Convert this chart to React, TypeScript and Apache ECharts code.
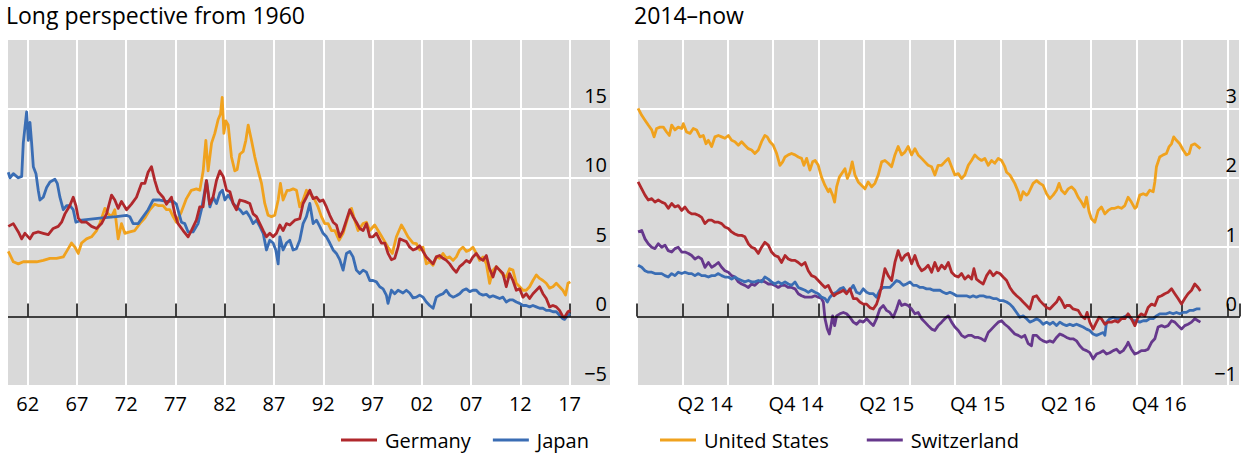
import React, { useEffect, useRef } from "react";
import * as echarts from "echarts";

const FONT = "'Open Sans', 'Noto Sans', sans-serif";

// ---- Axis ticks & labels ----
const longTicks = [1962, 1967, 1972, 1977, 1982, 1987, 1992, 1997, 2002, 2007, 2012, 2017];
const longTickLabels = ["62", "67", "72", "77", "82", "87", "92", "97", "02", "07", "12", "17"];
const shortLabelPositions = [2014.375, 2014.875, 2015.375, 2015.875, 2016.375, 2016.875];
const shortTickLabels = ["Q2 14", "Q4 14", "Q2 15", "Q4 15", "Q2 16", "Q4 16"];

// ---- Long perspective from 1960 (year, % yield) ----
const germanyLong: [number, number][] = [
  [1960.03, 6.5], [1960.54, 6.7], [1961.05, 6.1], [1961.39, 5.6], [1961.72, 6.0], [1962.23, 5.6], [1962.57, 6.0],
  [1963.07, 6.1], [1963.58, 6.0], [1964.09, 5.9], [1964.59, 6.35], [1965.1, 6.5], [1965.44, 6.8], [1965.78, 7.4],
  [1966.28, 8.0], [1966.62, 8.6], [1966.89, 8.0], [1967.13, 7.1], [1967.47, 6.8], [1967.97, 6.8], [1968.48, 6.5],
  [1968.99, 6.35], [1969.49, 6.7], [1970.0, 7.4], [1970.51, 8.75], [1970.84, 8.4], [1971.18, 7.8], [1971.52, 8.3],
  [1972.03, 7.7], [1972.53, 8.1], [1973.04, 8.6], [1973.55, 9.6], [1973.89, 9.6], [1974.22, 10.4], [1974.56, 10.8],
  [1974.9, 9.8], [1975.24, 9.0], [1975.74, 8.6], [1976.08, 8.1], [1976.59, 8.6], [1976.93, 7.4], [1977.26, 6.7],
  [1977.77, 6.2], [1978.28, 5.75], [1978.61, 6.2], [1979.12, 6.95], [1979.46, 7.9], [1979.8, 7.9], [1980.14, 9.8],
  [1980.47, 8.1], [1980.81, 8.6], [1981.16, 9.8], [1981.5, 10.5], [1981.84, 10.1], [1982.18, 9.1], [1982.52, 9.0],
  [1982.85, 8.15], [1983.19, 7.7], [1983.53, 8.4], [1984.04, 8.3], [1984.54, 8.15], [1984.88, 7.4], [1985.22, 7.2],
  [1985.56, 6.7], [1985.9, 6.2], [1986.23, 5.75], [1986.57, 6.0], [1986.91, 5.75], [1987.25, 6.0], [1987.59, 6.6],
  [1987.92, 6.2], [1988.26, 6.7], [1988.6, 6.6], [1989.11, 6.95], [1989.61, 7.05], [1989.95, 8.15], [1990.29, 8.6],
  [1990.63, 9.1], [1990.97, 8.5], [1991.31, 8.6], [1991.64, 8.3], [1991.98, 8.4], [1992.32, 7.9], [1992.66, 7.3],
  [1993.0, 6.8], [1993.33, 6.6], [1993.67, 5.75], [1994.01, 6.2], [1994.35, 6.95], [1994.69, 7.7], [1995.02, 7.2],
  [1995.36, 6.8], [1995.7, 6.35], [1996.04, 6.2], [1996.38, 6.7], [1996.72, 5.75], [1997.05, 5.75], [1997.39, 6.0],
  [1997.9, 5.3], [1998.24, 5.3], [1998.57, 4.55], [1998.91, 4.1], [1999.25, 4.2], [1999.59, 5.0], [1999.76, 5.6],
  [2000.09, 5.5], [2000.43, 5.4], [2000.77, 5.0], [2001.11, 4.8], [2001.45, 4.9], [2001.78, 5.1], [2002.12, 4.7],
  [2002.46, 4.3], [2002.8, 4.05], [2003.14, 3.8], [2003.47, 4.3], [2003.81, 4.4], [2004.15, 4.2], [2004.49, 4.05],
  [2004.83, 3.8], [2005.17, 3.45], [2005.5, 3.2], [2005.84, 3.6], [2006.18, 3.8], [2006.52, 4.05], [2006.86, 3.9],
  [2007.19, 4.3], [2007.53, 4.55], [2007.87, 4.2], [2008.21, 4.05], [2008.55, 4.4], [2008.88, 3.45], [2009.22, 2.85],
  [2009.56, 3.6], [2009.9, 3.35], [2010.24, 3.1], [2010.57, 2.15], [2010.91, 3.1], [2011.25, 2.6], [2011.59, 1.9],
  [2011.93, 2.0], [2012.27, 1.4], [2012.6, 1.65], [2012.94, 1.3], [2013.28, 1.65], [2013.62, 1.9], [2013.96, 2.15],
  [2014.29, 1.65], [2014.63, 1.3], [2014.97, 0.7], [2015.31, 0.8], [2015.65, 0.7], [2015.98, 0.45], [2016.32, 0.0],
  [2016.49, -0.05], [2016.83, 0.35], [2017.07, 0.45],
];

const japanLong: [number, number][] = [
  [1960.03, 10.4], [1960.2, 10.0], [1960.54, 10.3], [1961.05, 10.0], [1961.39, 10.1], [1961.55, 12.5], [1961.89, 14.75],
  [1962.06, 12.7], [1962.23, 14.0], [1962.4, 12.5], [1962.57, 10.8], [1962.84, 10.3], [1963.07, 9.1], [1963.24, 8.4],
  [1963.58, 8.6], [1963.92, 9.3], [1964.26, 9.7], [1964.76, 9.9], [1965.0, 9.6], [1965.27, 8.6], [1965.61, 7.7],
  [1965.95, 8.0], [1966.28, 8.0], [1966.62, 7.7], [1966.89, 6.8], [1967.5, 6.95], [1969.32, 7.1], [1971.0, 7.2],
  [1972.03, 7.3], [1972.36, 7.2], [1972.7, 6.7], [1973.21, 6.7], [1973.72, 7.2], [1974.22, 7.7], [1974.73, 8.4],
  [1975.41, 8.4], [1976.08, 8.3], [1976.76, 8.3], [1977.09, 8.1], [1977.6, 6.8], [1977.94, 6.7], [1978.28, 6.1],
  [1978.78, 6.1], [1979.29, 6.7], [1979.63, 7.7], [1979.81, 8.4], [1980.15, 9.8], [1980.49, 7.9], [1980.82, 8.6],
  [1981.16, 8.15], [1981.5, 8.9], [1981.77, 9.1], [1982.01, 8.4], [1982.35, 8.75], [1982.68, 8.4], [1982.85, 8.15],
  [1983.19, 7.9], [1983.53, 7.7], [1983.87, 7.4], [1984.21, 7.55], [1984.54, 7.2], [1984.88, 6.7], [1985.22, 6.95],
  [1985.56, 6.5], [1985.9, 6.0], [1986.23, 4.8], [1986.57, 5.5], [1986.91, 5.3], [1987.18, 4.8], [1987.42, 3.8],
  [1987.59, 5.75], [1987.92, 4.8], [1988.26, 5.3], [1988.6, 5.5], [1988.94, 4.8], [1989.28, 4.9], [1989.61, 5.5],
  [1989.95, 6.7], [1990.29, 7.2], [1990.63, 8.15], [1990.97, 6.7], [1991.31, 6.95], [1991.64, 6.5], [1991.98, 6.0],
  [1992.32, 5.75], [1992.66, 5.3], [1993.0, 4.8], [1993.33, 4.55], [1993.67, 4.1], [1994.01, 3.35], [1994.35, 4.55],
  [1994.69, 4.7], [1995.02, 4.3], [1995.36, 3.35], [1995.7, 3.1], [1996.04, 3.35], [1996.38, 3.2], [1996.72, 2.6],
  [1997.05, 2.6], [1997.39, 2.5], [1997.73, 2.15], [1998.07, 2.0], [1998.4, 1.55], [1998.57, 0.95], [1998.91, 1.9],
  [1999.25, 1.65], [1999.59, 1.9], [2000.09, 1.7], [2000.43, 1.9], [2000.77, 1.7], [2001.11, 1.35], [2001.45, 1.4],
  [2001.78, 1.55], [2002.12, 1.4], [2002.46, 1.05], [2002.8, 0.8], [2003.14, 0.6], [2003.47, 1.4], [2003.81, 1.55],
  [2004.15, 1.65], [2004.49, 1.9], [2004.83, 1.55], [2005.17, 1.4], [2005.5, 1.5], [2005.84, 1.65], [2006.18, 1.9],
  [2006.52, 2.0], [2006.86, 1.8], [2007.19, 1.9], [2007.53, 1.9], [2007.87, 1.65], [2008.21, 1.55], [2008.55, 1.6],
  [2008.88, 1.4], [2009.22, 1.5], [2009.56, 1.4], [2009.9, 1.3], [2010.24, 1.4], [2010.57, 1.05], [2010.91, 1.2],
  [2011.25, 1.2], [2011.59, 1.05], [2011.93, 0.95], [2012.27, 0.8], [2012.6, 0.8], [2012.94, 0.7], [2013.28, 0.8],
  [2013.62, 0.7], [2013.96, 0.6], [2014.29, 0.6], [2014.63, 0.45], [2014.97, 0.45], [2015.31, 0.35], [2015.65, 0.35],
  [2015.98, 0.1], [2016.32, -0.15], [2016.49, -0.2], [2016.83, 0.1], [2017.07, 0.2],
];

const usLong: [number, number][] = [
  [1960.03, 4.7], [1960.54, 3.95], [1961.05, 3.8], [1961.55, 3.95], [1962.23, 3.95], [1962.91, 3.95], [1963.58, 4.05],
  [1964.26, 4.2], [1964.93, 4.2], [1965.61, 4.3], [1965.95, 4.7], [1966.45, 5.3], [1966.79, 5.0], [1967.13, 4.55],
  [1967.47, 5.3], [1967.97, 5.6], [1968.48, 5.75], [1968.99, 6.2], [1969.32, 6.7], [1969.83, 7.8], [1970.17, 7.4],
  [1970.51, 7.2], [1970.84, 7.7], [1971.18, 5.6], [1971.52, 6.7], [1971.86, 6.0], [1972.36, 6.1], [1972.87, 6.2],
  [1973.38, 6.7], [1973.89, 7.1], [1974.39, 7.7], [1974.9, 8.1], [1975.24, 8.0], [1975.74, 8.0], [1976.08, 7.7],
  [1976.42, 7.7], [1976.76, 7.2], [1977.09, 6.8], [1977.6, 7.55], [1978.11, 8.5], [1978.61, 9.1], [1979.12, 9.2],
  [1979.47, 9.1], [1979.81, 10.5], [1980.08, 12.7], [1980.31, 10.5], [1980.66, 12.5], [1980.99, 13.2], [1981.33, 14.2],
  [1981.57, 14.6], [1981.74, 15.8], [1981.91, 13.2], [1982.11, 14.1], [1982.35, 13.8], [1982.68, 11.5], [1983.02, 10.5],
  [1983.26, 10.6], [1983.53, 11.7], [1983.87, 11.9], [1984.14, 12.7], [1984.38, 13.8], [1984.71, 12.7], [1985.05, 11.5],
  [1985.39, 10.5], [1985.73, 9.6], [1986.06, 8.15], [1986.4, 7.3], [1986.74, 7.2], [1987.08, 7.3], [1987.42, 8.4],
  [1987.65, 9.6], [1987.92, 8.4], [1988.33, 9.1], [1988.6, 9.1], [1988.94, 9.2], [1989.28, 9.1], [1989.61, 7.9],
  [1989.95, 8.4], [1990.29, 9.1], [1990.63, 8.9], [1991.14, 8.4], [1991.47, 7.9], [1991.81, 7.2], [1992.15, 6.7],
  [1992.49, 6.7], [1992.83, 6.2], [1993.17, 6.2], [1993.6, 5.5], [1994.01, 6.0], [1994.52, 7.2], [1994.86, 7.8],
  [1995.19, 6.95], [1995.53, 6.2], [1996.04, 6.7], [1996.38, 6.8], [1996.72, 6.2], [1997.22, 6.6], [1997.73, 6.0],
  [1998.24, 5.4], [1998.57, 5.0], [1999.01, 4.55], [1999.42, 5.75], [1999.93, 6.6], [2000.26, 6.2], [2000.6, 5.75],
  [2001.11, 5.3], [2001.45, 5.25], [2001.78, 4.8], [2002.12, 5.0], [2002.46, 3.8], [2002.8, 3.95], [2003.14, 3.7],
  [2003.47, 4.3], [2003.81, 4.2], [2004.15, 4.55], [2004.49, 4.2], [2004.83, 4.3], [2005.17, 4.05], [2005.5, 4.3],
  [2005.84, 4.8], [2006.18, 5.0], [2006.52, 4.7], [2006.86, 4.8], [2007.19, 5.0], [2007.53, 4.55], [2007.87, 4.05],
  [2008.21, 4.3], [2008.55, 3.8], [2008.88, 2.4], [2009.22, 3.35], [2009.56, 3.6], [2009.9, 3.35], [2010.24, 3.0],
  [2010.57, 2.85], [2010.91, 3.45], [2011.25, 3.35], [2011.59, 2.4], [2011.93, 2.15], [2012.27, 1.9], [2012.6, 1.9],
  [2012.94, 2.15], [2013.28, 2.6], [2013.62, 3.0], [2013.96, 2.75], [2014.29, 2.6], [2014.63, 2.4], [2014.97, 2.05],
  [2015.31, 2.15], [2015.65, 2.4], [2015.98, 2.15], [2016.32, 1.9], [2016.59, 1.55], [2016.83, 2.4], [2017.07, 2.5],
];

// ---- 2014–now (year, % yield) ----
const usShort: [number, number][] = [
  [2014.006, 3.0], [2014.026, 2.9], [2014.044, 2.83], [2014.062, 2.76], [2014.081, 2.69], [2014.094, 2.59], [2014.108, 2.71],
  [2014.127, 2.73], [2014.145, 2.73], [2014.163, 2.66], [2014.178, 2.61], [2014.191, 2.76], [2014.209, 2.69], [2014.227, 2.73],
  [2014.246, 2.71], [2014.255, 2.78], [2014.273, 2.66], [2014.292, 2.64], [2014.31, 2.71], [2014.328, 2.69], [2014.347, 2.59],
  [2014.365, 2.61], [2014.38, 2.49], [2014.393, 2.54], [2014.411, 2.45], [2014.429, 2.59], [2014.448, 2.61], [2014.466, 2.59],
  [2014.484, 2.57], [2014.503, 2.61], [2014.521, 2.54], [2014.539, 2.52], [2014.558, 2.47], [2014.576, 2.52], [2014.594, 2.47],
  [2014.613, 2.42], [2014.631, 2.4], [2014.649, 2.35], [2014.668, 2.4], [2014.686, 2.52], [2014.704, 2.61], [2014.717, 2.59],
  [2014.732, 2.52], [2014.75, 2.47], [2014.769, 2.35], [2014.787, 2.18], [2014.802, 2.23], [2014.815, 2.3], [2014.833, 2.33],
  [2014.851, 2.35], [2014.87, 2.33], [2014.888, 2.3], [2014.906, 2.28], [2014.919, 2.18], [2014.934, 2.28], [2014.952, 2.11],
  [2014.967, 2.23], [2014.981, 2.25], [2014.998, 2.18], [2015.016, 2.01], [2015.035, 1.89], [2015.053, 1.8], [2015.062, 1.84],
  [2015.077, 1.75], [2015.088, 1.65], [2015.099, 1.87], [2015.114, 2.01], [2015.132, 2.08], [2015.145, 2.13], [2015.158, 1.99],
  [2015.172, 2.08], [2015.185, 2.23], [2015.2, 2.04], [2015.218, 1.94], [2015.237, 1.89], [2015.255, 1.84], [2015.273, 1.94],
  [2015.292, 1.87], [2015.31, 1.92], [2015.328, 2.04], [2015.347, 2.23], [2015.365, 2.25], [2015.383, 2.21], [2015.402, 2.16],
  [2015.42, 2.33], [2015.438, 2.45], [2015.457, 2.33], [2015.475, 2.37], [2015.493, 2.45], [2015.512, 2.33], [2015.53, 2.42],
  [2015.548, 2.33], [2015.567, 2.28], [2015.585, 2.23], [2015.603, 2.18], [2015.622, 2.16], [2015.64, 2.04], [2015.658, 2.18],
  [2015.677, 2.18], [2015.695, 2.23], [2015.714, 2.28], [2015.732, 2.16], [2015.75, 2.04], [2015.769, 2.06], [2015.787, 1.99],
  [2015.805, 2.04], [2015.824, 2.18], [2015.842, 2.25], [2015.86, 2.33], [2015.879, 2.28], [2015.897, 2.25], [2015.915, 2.28],
  [2015.934, 2.18], [2015.952, 2.25], [2015.97, 2.21], [2015.989, 2.28], [2016.007, 2.25], [2016.025, 2.16], [2016.035, 2.08],
  [2016.053, 2.04], [2016.08, 1.92], [2016.099, 1.8], [2016.112, 1.68], [2016.126, 1.8], [2016.145, 1.75], [2016.154, 1.77],
  [2016.181, 1.92], [2016.2, 1.96], [2016.218, 1.92], [2016.236, 1.89], [2016.255, 1.77], [2016.273, 1.7], [2016.291, 1.75],
  [2016.31, 1.82], [2016.324, 1.92], [2016.337, 1.82], [2016.356, 1.77], [2016.374, 1.84], [2016.392, 1.87], [2016.411, 1.82],
  [2016.429, 1.72], [2016.447, 1.65], [2016.462, 1.58], [2016.475, 1.72], [2016.489, 1.51], [2016.502, 1.41], [2016.521, 1.36],
  [2016.539, 1.53], [2016.557, 1.58], [2016.576, 1.48], [2016.594, 1.53], [2016.613, 1.56], [2016.631, 1.56], [2016.649, 1.58],
  [2016.667, 1.56], [2016.686, 1.6], [2016.704, 1.72], [2016.722, 1.65], [2016.741, 1.56], [2016.75, 1.58], [2016.768, 1.75],
  [2016.787, 1.77], [2016.805, 1.75], [2016.823, 1.82], [2016.842, 1.8], [2016.851, 1.94], [2016.86, 2.16], [2016.878, 2.3],
  [2016.897, 2.33], [2016.915, 2.35], [2016.93, 2.45], [2016.943, 2.49], [2016.955, 2.59], [2016.97, 2.54], [2016.988, 2.49],
  [2017.007, 2.4], [2017.025, 2.33], [2017.04, 2.35], [2017.053, 2.47], [2017.071, 2.49], [2017.089, 2.45], [2017.102, 2.42],
];

const germanyShort: [number, number][] = [
  [2014.006, 1.94], [2014.026, 1.84], [2014.044, 1.75], [2014.062, 1.68], [2014.081, 1.7], [2014.099, 1.65], [2014.117, 1.68],
  [2014.136, 1.65], [2014.154, 1.63], [2014.172, 1.56], [2014.191, 1.63], [2014.209, 1.58], [2014.227, 1.6], [2014.246, 1.53],
  [2014.264, 1.58], [2014.283, 1.51], [2014.301, 1.48], [2014.319, 1.48], [2014.338, 1.46], [2014.356, 1.43], [2014.374, 1.34],
  [2014.393, 1.39], [2014.411, 1.39], [2014.429, 1.36], [2014.448, 1.36], [2014.466, 1.34], [2014.484, 1.29], [2014.503, 1.27],
  [2014.521, 1.22], [2014.539, 1.19], [2014.558, 1.17], [2014.576, 1.17], [2014.594, 1.15], [2014.613, 1.05], [2014.631, 1.0],
  [2014.649, 0.98], [2014.668, 0.91], [2014.686, 1.0], [2014.704, 1.07], [2014.723, 1.03], [2014.741, 0.93], [2014.759, 0.88],
  [2014.778, 0.86], [2014.796, 0.78], [2014.815, 0.88], [2014.833, 0.83], [2014.851, 0.81], [2014.87, 0.81], [2014.888, 0.78],
  [2014.906, 0.74], [2014.925, 0.78], [2014.943, 0.66], [2014.961, 0.59], [2014.98, 0.57], [2014.998, 0.52], [2015.016, 0.47],
  [2015.035, 0.42], [2015.053, 0.45], [2015.071, 0.35], [2015.084, 0.3], [2015.099, 0.33], [2015.117, 0.35], [2015.136, 0.38],
  [2015.154, 0.33], [2015.172, 0.4], [2015.191, 0.26], [2015.209, 0.26], [2015.227, 0.21], [2015.246, 0.18], [2015.264, 0.18],
  [2015.282, 0.13], [2015.301, 0.11], [2015.319, 0.18], [2015.334, 0.3], [2015.347, 0.45], [2015.365, 0.69], [2015.383, 0.59],
  [2015.402, 0.52], [2015.42, 0.78], [2015.438, 0.95], [2015.457, 0.81], [2015.475, 0.88], [2015.493, 0.91], [2015.512, 0.76],
  [2015.53, 0.88], [2015.548, 0.74], [2015.567, 0.66], [2015.585, 0.69], [2015.603, 0.74], [2015.622, 0.64], [2015.64, 0.78],
  [2015.658, 0.66], [2015.677, 0.74], [2015.695, 0.69], [2015.714, 0.78], [2015.732, 0.64], [2015.75, 0.59], [2015.769, 0.57],
  [2015.787, 0.62], [2015.805, 0.54], [2015.824, 0.59], [2015.842, 0.54], [2015.855, 0.69], [2015.869, 0.54], [2015.888, 0.5],
  [2015.906, 0.47], [2015.925, 0.59], [2015.943, 0.66], [2015.961, 0.59], [2015.98, 0.64], [2015.998, 0.62], [2016.016, 0.57],
  [2016.035, 0.52], [2016.053, 0.42], [2016.071, 0.35], [2016.09, 0.3], [2016.108, 0.26], [2016.126, 0.21], [2016.145, 0.16],
  [2016.163, 0.11], [2016.181, 0.28], [2016.2, 0.3], [2016.218, 0.23], [2016.236, 0.18], [2016.255, 0.13], [2016.273, 0.11],
  [2016.291, 0.16], [2016.31, 0.21], [2016.324, 0.28], [2016.337, 0.23], [2016.356, 0.13], [2016.365, 0.16], [2016.383, 0.16],
  [2016.401, 0.11], [2016.429, 0.09], [2016.447, 0.01], [2016.466, -0.03], [2016.478, 0.06], [2016.493, -0.08], [2016.511, -0.18],
  [2016.53, -0.08], [2016.544, -0.01], [2016.557, -0.03], [2016.576, -0.11], [2016.594, -0.08], [2016.613, -0.08], [2016.631, -0.06],
  [2016.649, -0.08], [2016.667, -0.03], [2016.686, -0.03], [2016.704, 0.04], [2016.722, -0.03], [2016.741, -0.13], [2016.759, -0.01],
  [2016.777, 0.04], [2016.796, 0.01], [2016.814, 0.13], [2016.833, 0.18], [2016.851, 0.16], [2016.869, 0.28], [2016.888, 0.3],
  [2016.906, 0.33], [2016.924, 0.35], [2016.943, 0.4], [2016.961, 0.33], [2016.979, 0.26], [2016.998, 0.18], [2017.016, 0.26],
  [2017.034, 0.33], [2017.053, 0.38], [2017.071, 0.47], [2017.089, 0.42], [2017.102, 0.37],
];

const japanShort: [number, number][] = [
  [2014.006, 0.74], [2014.026, 0.71], [2014.044, 0.66], [2014.062, 0.64], [2014.081, 0.64], [2014.099, 0.62], [2014.117, 0.62],
  [2014.136, 0.62], [2014.154, 0.59], [2014.172, 0.57], [2014.191, 0.62], [2014.209, 0.59], [2014.227, 0.64], [2014.246, 0.62],
  [2014.264, 0.64], [2014.283, 0.62], [2014.301, 0.62], [2014.319, 0.59], [2014.338, 0.62], [2014.356, 0.59], [2014.374, 0.59],
  [2014.393, 0.57], [2014.411, 0.59], [2014.429, 0.59], [2014.448, 0.62], [2014.466, 0.59], [2014.484, 0.57], [2014.503, 0.57],
  [2014.521, 0.54], [2014.539, 0.57], [2014.558, 0.54], [2014.576, 0.52], [2014.594, 0.5], [2014.613, 0.52], [2014.631, 0.5],
  [2014.649, 0.5], [2014.668, 0.52], [2014.686, 0.5], [2014.704, 0.57], [2014.723, 0.54], [2014.741, 0.5], [2014.759, 0.47],
  [2014.778, 0.5], [2014.796, 0.47], [2014.815, 0.5], [2014.833, 0.47], [2014.851, 0.45], [2014.87, 0.5], [2014.888, 0.42],
  [2014.906, 0.4], [2014.925, 0.38], [2014.943, 0.35], [2014.961, 0.38], [2014.98, 0.35], [2014.998, 0.33], [2015.016, 0.28],
  [2015.035, 0.26], [2015.048, 0.21], [2015.062, 0.28], [2015.08, 0.33], [2015.099, 0.35], [2015.117, 0.4], [2015.136, 0.42],
  [2015.154, 0.35], [2015.172, 0.38], [2015.191, 0.45], [2015.209, 0.35], [2015.227, 0.33], [2015.246, 0.4], [2015.264, 0.35],
  [2015.282, 0.33], [2015.301, 0.33], [2015.319, 0.28], [2015.337, 0.38], [2015.356, 0.42], [2015.374, 0.42], [2015.392, 0.42],
  [2015.411, 0.47], [2015.429, 0.52], [2015.447, 0.5], [2015.466, 0.45], [2015.484, 0.47], [2015.503, 0.5], [2015.521, 0.45],
  [2015.539, 0.45], [2015.558, 0.42], [2015.576, 0.42], [2015.594, 0.4], [2015.613, 0.4], [2015.631, 0.38], [2015.649, 0.38],
  [2015.668, 0.38], [2015.686, 0.35], [2015.704, 0.33], [2015.723, 0.35], [2015.741, 0.33], [2015.759, 0.3], [2015.778, 0.3],
  [2015.796, 0.3], [2015.814, 0.3], [2015.833, 0.28], [2015.851, 0.3], [2015.869, 0.28], [2015.888, 0.3], [2015.906, 0.3],
  [2015.925, 0.28], [2015.943, 0.28], [2015.961, 0.26], [2015.98, 0.26], [2015.998, 0.23], [2016.016, 0.23], [2016.035, 0.21],
  [2016.053, 0.18], [2016.071, 0.13], [2016.09, 0.06], [2016.108, -0.01], [2016.126, 0.01], [2016.145, -0.03], [2016.163, -0.08],
  [2016.181, -0.06], [2016.2, -0.03], [2016.218, -0.06], [2016.236, -0.11], [2016.255, -0.08], [2016.273, -0.11], [2016.291, -0.08],
  [2016.31, -0.13], [2016.328, -0.08], [2016.346, -0.11], [2016.365, -0.13], [2016.383, -0.11], [2016.401, -0.13], [2016.42, -0.11],
  [2016.438, -0.13], [2016.456, -0.15], [2016.475, -0.18], [2016.493, -0.2], [2016.511, -0.25], [2016.53, -0.27], [2016.548, -0.25],
  [2016.567, -0.23], [2016.576, -0.27], [2016.585, -0.08], [2016.603, -0.03], [2016.622, -0.01], [2016.64, -0.03], [2016.658, -0.03],
  [2016.677, -0.01], [2016.695, 0.01], [2016.713, -0.01], [2016.732, -0.06], [2016.75, -0.06], [2016.768, -0.08], [2016.787, -0.06],
  [2016.805, -0.06], [2016.823, -0.03], [2016.842, -0.03], [2016.86, 0.01], [2016.878, 0.04], [2016.897, 0.04], [2016.915, 0.04],
  [2016.933, 0.06], [2016.952, 0.04], [2016.97, 0.06], [2016.988, 0.04], [2017.007, 0.06], [2017.025, 0.06], [2017.043, 0.09],
  [2017.062, 0.09], [2017.08, 0.11], [2017.102, 0.11],
];

const switzerlandShort: [number, number][] = [
  [2014.006, 1.22], [2014.026, 1.24], [2014.044, 1.12], [2014.062, 1.05], [2014.081, 1.0], [2014.099, 0.98], [2014.117, 1.05],
  [2014.136, 1.0], [2014.154, 1.03], [2014.172, 0.95], [2014.191, 0.93], [2014.209, 0.98], [2014.227, 1.0], [2014.246, 0.93],
  [2014.264, 0.93], [2014.283, 0.91], [2014.301, 0.88], [2014.319, 0.83], [2014.338, 0.86], [2014.356, 0.83], [2014.374, 0.71],
  [2014.393, 0.78], [2014.411, 0.71], [2014.429, 0.74], [2014.448, 0.78], [2014.466, 0.71], [2014.484, 0.66], [2014.503, 0.64],
  [2014.521, 0.59], [2014.539, 0.57], [2014.558, 0.5], [2014.576, 0.47], [2014.594, 0.45], [2014.613, 0.42], [2014.631, 0.47],
  [2014.649, 0.45], [2014.668, 0.5], [2014.686, 0.52], [2014.704, 0.5], [2014.723, 0.47], [2014.741, 0.47], [2014.759, 0.45],
  [2014.778, 0.42], [2014.796, 0.45], [2014.815, 0.45], [2014.833, 0.42], [2014.851, 0.42], [2014.87, 0.4], [2014.888, 0.33],
  [2014.906, 0.3], [2014.925, 0.28], [2014.943, 0.28], [2014.961, 0.28], [2014.98, 0.3], [2014.998, 0.28], [2015.016, 0.26],
  [2015.026, 0.21], [2015.035, -0.03], [2015.048, -0.18], [2015.059, -0.25], [2015.068, -0.13], [2015.077, 0.01], [2015.088, -0.13],
  [2015.099, 0.01], [2015.117, 0.04], [2015.136, 0.06], [2015.154, 0.04], [2015.172, -0.01], [2015.191, -0.08], [2015.209, -0.11],
  [2015.227, -0.06], [2015.246, -0.08], [2015.264, -0.03], [2015.282, -0.08], [2015.301, -0.13], [2015.319, -0.03], [2015.337, 0.11],
  [2015.356, 0.16], [2015.374, 0.09], [2015.392, 0.06], [2015.411, -0.01], [2015.429, 0.11], [2015.444, 0.23], [2015.457, 0.16],
  [2015.475, 0.18], [2015.493, 0.16], [2015.512, 0.11], [2015.53, 0.04], [2015.548, 0.06], [2015.567, -0.03], [2015.585, -0.08],
  [2015.603, -0.13], [2015.622, -0.18], [2015.64, -0.2], [2015.658, -0.13], [2015.677, -0.08], [2015.695, -0.03], [2015.714, 0.01],
  [2015.732, -0.08], [2015.75, -0.15], [2015.769, -0.2], [2015.787, -0.27], [2015.805, -0.3], [2015.824, -0.27], [2015.842, -0.27],
  [2015.86, -0.3], [2015.879, -0.3], [2015.897, -0.32], [2015.915, -0.35], [2015.934, -0.23], [2015.952, -0.18], [2015.97, -0.13],
  [2015.989, -0.08], [2016.007, -0.06], [2016.025, -0.11], [2016.044, -0.15], [2016.062, -0.2], [2016.08, -0.25], [2016.099, -0.27],
  [2016.117, -0.3], [2016.135, -0.27], [2016.154, -0.39], [2016.172, -0.42], [2016.181, -0.27], [2016.2, -0.27], [2016.218, -0.32],
  [2016.236, -0.35], [2016.255, -0.37], [2016.273, -0.35], [2016.291, -0.37], [2016.31, -0.3], [2016.328, -0.25], [2016.346, -0.27],
  [2016.365, -0.3], [2016.383, -0.32], [2016.401, -0.32], [2016.42, -0.35], [2016.438, -0.42], [2016.456, -0.47], [2016.475, -0.49],
  [2016.493, -0.52], [2016.511, -0.61], [2016.53, -0.54], [2016.548, -0.52], [2016.567, -0.49], [2016.585, -0.54], [2016.603, -0.52],
  [2016.622, -0.49], [2016.64, -0.47], [2016.658, -0.52], [2016.677, -0.49], [2016.695, -0.42], [2016.704, -0.37], [2016.722, -0.47],
  [2016.741, -0.54], [2016.759, -0.52], [2016.777, -0.49], [2016.796, -0.49], [2016.814, -0.47], [2016.833, -0.37], [2016.851, -0.32],
  [2016.869, -0.15], [2016.888, -0.13], [2016.906, -0.15], [2016.924, -0.13], [2016.943, -0.06], [2016.961, -0.08], [2016.979, -0.13],
  [2016.998, -0.18], [2017.016, -0.13], [2017.034, -0.11], [2017.053, -0.08], [2017.071, -0.03], [2017.089, -0.06], [2017.102, -0.08],
];

const COLORS = {
  Germany: "#b0282c",
  Japan: "#3a6db4",
  "United States": "#f0a21e",
  Switzerland: "#66388c",
};

const fmtNum = (v: number) => (v < 0 ? "\u2212" + Math.abs(v) : String(v));

function lineSeries(name: string, data: [number, number][], idx: number) {
  return {
    name,
    type: "line",
    xAxisIndex: idx,
    yAxisIndex: idx,
    data,
    showSymbol: false,
    symbol: "none",
    clip: true,
    color: (COLORS as any)[name],
    lineStyle: { width: 2.8, color: (COLORS as any)[name], join: "round" },
  };
}

function zeroSeries(idx: number) {
  return {
    name: "zero" + idx,
    type: "line",
    xAxisIndex: idx,
    yAxisIndex: idx,
    data: [],
    silent: true,
    markLine: {
      silent: true,
      symbol: ["none", "none"],
      label: { show: false },
      lineStyle: { color: "#000", width: 1.6, type: "solid" },
      emphasis: { disabled: true },
      data: [{ yAxis: 0 }],
    },
  };
}

const baseYAxis = {
  type: "value",
  position: "right",
  axisLine: { show: false },
  axisTick: { show: false },
  splitLine: { show: true, lineStyle: { color: "#ffffff", width: 2 } },
};

const yLabelStyle = {
  inside: true,
  verticalAlign: "bottom",
  margin: 3,
  padding: [0, 0, 3, 0],
  fontFamily: FONT,
  fontSize: 20,
  color: "#000",
};

export default function App() {
  const ref = useRef<HTMLDivElement>(null);
  useEffect(() => {
    if (!ref.current) return;
    const chart = echarts.init(ref.current, null, { renderer: "svg" });
    const option: any = {
      animation: false,
      textStyle: { fontFamily: FONT },
      title: [
        {
          text: "Long perspective from 1960",
          left: 6,
          top: 3,
          padding: 0,
          textStyle: { fontFamily: FONT, fontSize: 23, fontWeight: "normal", color: "#000" },
        },
        {
          text: "2014\u2013now",
          left: 634,
          top: 3,
          padding: 0,
          textStyle: { fontFamily: FONT, fontSize: 23, fontWeight: "normal", color: "#000" },
        },
      ],
      grid: [
        { left: 8, top: 39, width: 602, height: 347, show: true, backgroundColor: "#d9d9d9", borderWidth: 0, outerBoundsMode: "none" },
        { left: 637, top: 39, width: 603, height: 347, show: true, backgroundColor: "#d9d9d9", borderWidth: 0, outerBoundsMode: "none" },
      ],
      xAxis: [
        {
          type: "value",
          gridIndex: 0,
          min: 1960,
          max: 2021.1,
          axisLine: { show: false },
          axisTick: { show: true, inside: true, length: 13, customValues: longTicks, lineStyle: { color: "#000", width: 1.5 } },
          axisLabel: {
            customValues: longTicks,
            formatter: (v: number) => longTickLabels[longTicks.indexOf(Math.round(v))] ?? "",
            fontFamily: FONT,
            fontSize: 20,
            color: "#000",
            margin: 7,
          },
          splitLine: { show: true, lineStyle: { color: "#ffffff", width: 2 } },
        },
        {
          type: "value",
          gridIndex: 1,
          min: 2014,
          max: 2017.32,
          interval: 0.25,
          axisLine: { show: false },
          axisTick: { show: true, inside: true, length: 13, lineStyle: { color: "#000", width: 1.5 } },
          axisLabel: {
            customValues: shortLabelPositions,
            formatter: (v: number) => {
              const i = shortLabelPositions.findIndex((p) => Math.abs(p - v) < 0.01);
              return i >= 0 ? shortTickLabels[i] : "";
            },
            fontFamily: FONT,
            fontSize: 20,
            color: "#000",
            margin: 7,
          },
          splitLine: { show: true, lineStyle: { color: "#ffffff", width: 2 } },
        },
      ],
      yAxis: [
        {
          ...baseYAxis,
          gridIndex: 0,
          min: -5,
          max: 20,
          interval: 5,
          axisLabel: { ...yLabelStyle, formatter: (v: number) => (v >= 20 ? "" : fmtNum(v)) },
        },
        {
          ...baseYAxis,
          gridIndex: 1,
          min: -1,
          max: 4,
          interval: 1,
          axisLabel: { ...yLabelStyle, formatter: (v: number) => (v >= 4 ? "" : fmtNum(v)) },
        },
      ],
      legend: [
        {
          data: ["Germany", "Japan"],
          left: 341,
          top: 430,
          icon: "rect",
          itemWidth: 36,
          itemHeight: 3,
          itemGap: 22,
          padding: 0,
          selectedMode: false,
          textStyle: { fontFamily: FONT, fontSize: 20, color: "#000", padding: [0, 0, 0, 3] },
        },
        {
          data: ["United States", "Switzerland"],
          left: 660,
          top: 430,
          icon: "rect",
          itemWidth: 36,
          itemHeight: 3,
          itemGap: 38,
          padding: 0,
          selectedMode: false,
          textStyle: { fontFamily: FONT, fontSize: 20, color: "#000", padding: [0, 0, 0, 3] },
        },
      ],
      series: [
        zeroSeries(0),
        lineSeries("United States", usLong, 0),
        lineSeries("Japan", japanLong, 0),
        lineSeries("Germany", germanyLong, 0),
        zeroSeries(1),
        lineSeries("United States", usShort, 1),
        lineSeries("Switzerland", switzerlandShort, 1),
        lineSeries("Japan", japanShort, 1),
        lineSeries("Germany", germanyShort, 1),
      ],
    };
    chart.setOption(option);
    return () => chart.dispose();
  }, []);
  return (
    <div
      ref={ref}
      style={{ position: "fixed", left: 0, top: 0, width: 1246, height: 455, background: "#fff" }}
    />
  );
}
